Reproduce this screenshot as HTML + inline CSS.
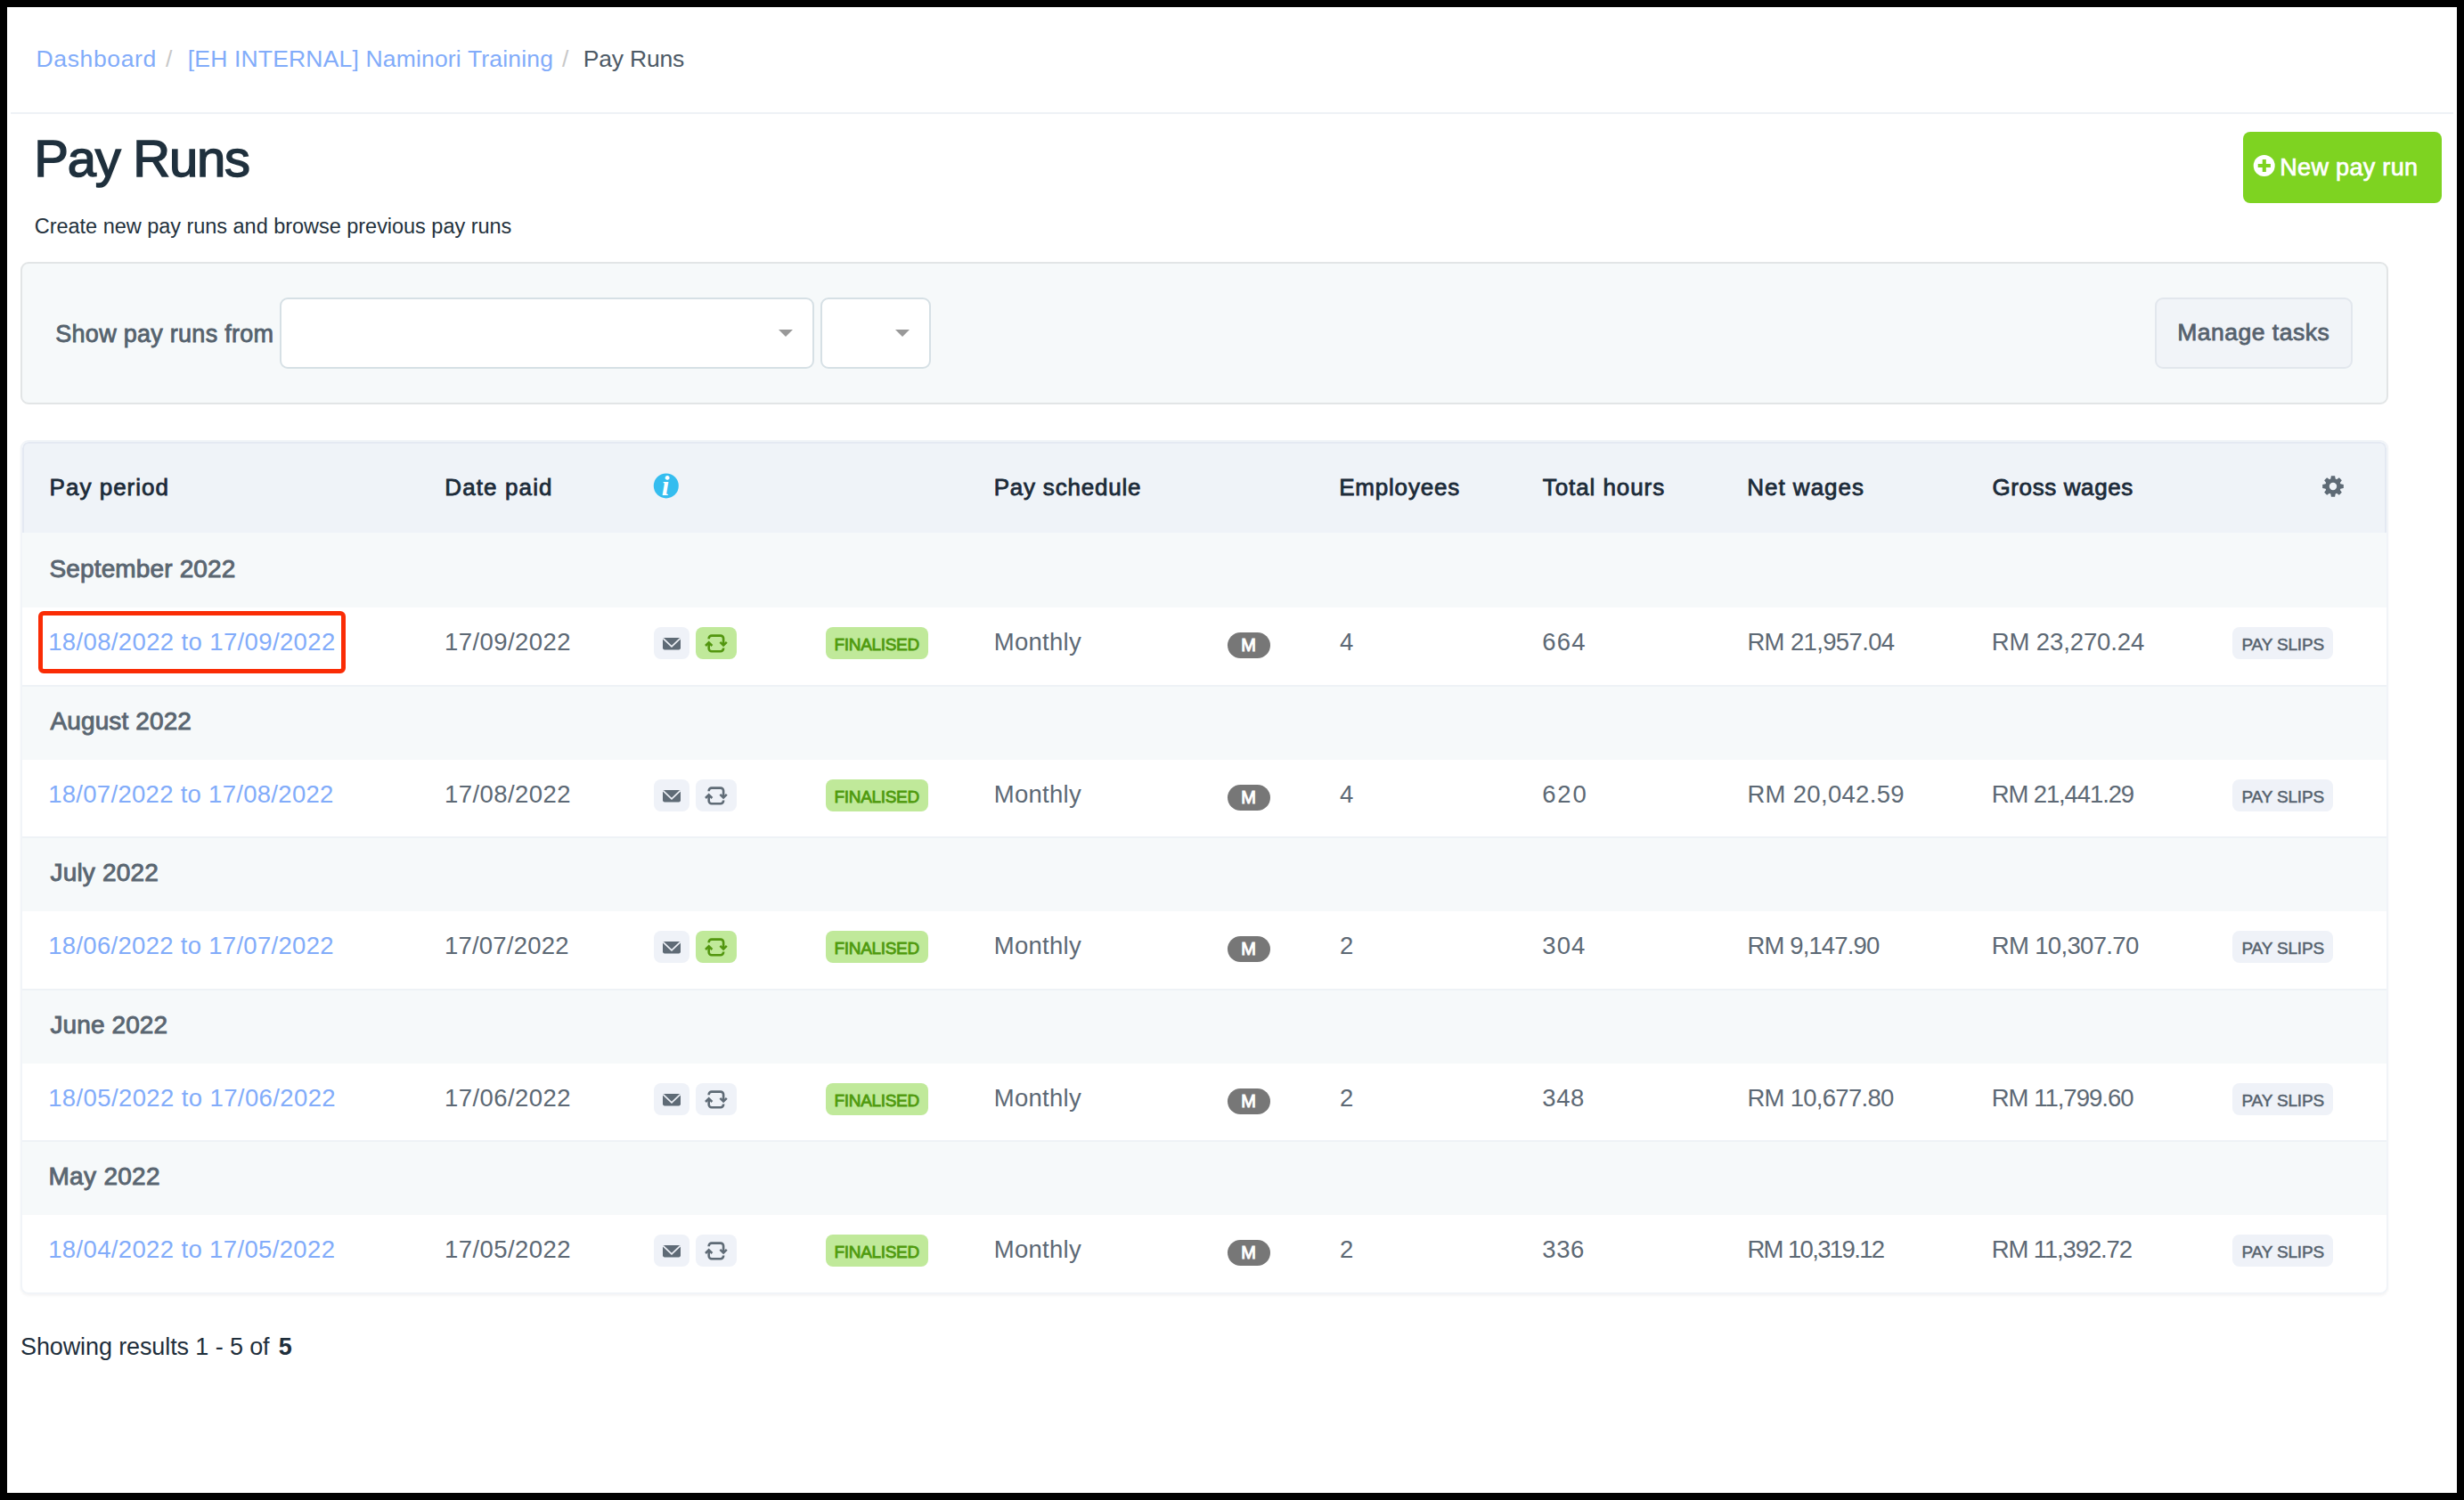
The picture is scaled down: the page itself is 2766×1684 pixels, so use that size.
<!DOCTYPE html>
<html lang="en">
<head>
<meta charset="utf-8">
<title>Pay Runs</title>
<style>
html,body{margin:0;padding:0;}
body{width:2766px;height:1684px;background:#000;position:relative;overflow:hidden;font-family:"Liberation Sans", sans-serif;}
.page{position:absolute;left:8px;top:8px;width:2750px;height:1668px;background:#fff;}
.b{position:absolute;box-sizing:border-box;}
.t{position:absolute;white-space:pre;display:block;margin:0;padding:0;font-weight:400;text-decoration:none;}
svg{position:absolute;left:0;top:0;overflow:visible;pointer-events:none;}
</style>
</head>
<body>
<div class="page"></div>
<nav aria-label="Breadcrumb">
<a class="t" style="left:40.5px;top:53px;font-size:26.5px;line-height:26.5px;color:#82acfa;letter-spacing:0.64px;">Dashboard</a>
<span class="t" style="left:186px;top:53px;font-size:26.5px;line-height:26.5px;color:#c8c8c8;">/</span>
<a class="t" style="left:210.8px;top:53px;font-size:26.5px;line-height:26.5px;color:#82acfa;letter-spacing:0.17px;">[EH INTERNAL] Naminori Training</a>
<span class="t" style="left:631px;top:53px;font-size:26.5px;line-height:26.5px;color:#c8c8c8;">/</span>
<span class="t" style="left:654.8px;top:53px;font-size:26.5px;line-height:26.5px;color:#4d5a66;letter-spacing:-0.21px;">Pay Runs</span>
</nav>
<div class="b" style="left:12px;top:126px;width:2742px;height:2px;background:#eef2f6;"></div>
<header>
<h1 class="t" style="left:38.2px;top:149px;font-size:58px;line-height:58px;color:#1f303d;letter-spacing:-1.24px;-webkit-text-stroke:1.5px #1f303d;">Pay Runs</h1>
<p class="t" style="left:38.8px;top:243px;font-size:23.5px;line-height:23.5px;color:#24323d;letter-spacing:-0.03px;">Create new pay runs and browse previous pay runs</p>
<div class="b" style="left:2518px;top:148px;width:223px;height:80px;background:#7ed321;border-radius:8px;"></div>
<svg width="2766" height="1684" viewBox="0 0 2766 1684" aria-hidden="true">
<circle cx="2541.7" cy="186" r="12" fill="#fff"/>
<path d="M2534.7 184h14.2v4h-14.2z M2539.7 179h4.1v14h-4.1z" fill="#7ed321"/>
</svg>
<a class="t" style="left:2559.3px;top:175px;font-size:27px;line-height:27px;color:#ffffff;letter-spacing:0.31px;-webkit-text-stroke:0.7px #ffffff;">New pay run</a>
</header>
<section aria-label="Filters">
<div class="b" style="left:23px;top:294px;width:2658px;height:160px;background:#f6f9fa;border:2px solid #e2e5e6;border-radius:9px;"></div>
<label class="t" style="left:62.3px;top:362px;font-size:27px;line-height:27px;color:#55626d;letter-spacing:0.27px;-webkit-text-stroke:0.8px #55626d;">Show pay runs from</label>
<div class="b" style="left:314px;top:334px;width:600px;height:80px;background:#fff;border:2px solid #d6e0e5;border-radius:9px;"></div>
<div class="b" style="left:921px;top:334px;width:124px;height:80px;background:#fff;border:2px solid #d6e0e5;border-radius:9px;"></div>
<svg width="2766" height="1684" viewBox="0 0 2766 1684" aria-hidden="true"><path d="M874 370h16l-8 8z M1005 370h16l-8 8z" fill="#999"/></svg>
<div class="b" style="left:2419px;top:334px;width:222px;height:80px;background:#f1f4f8;border:2px solid #e2e7ed;border-radius:9px;"></div>
<a class="t" style="left:2444.2px;top:360px;font-size:26.5px;line-height:26.5px;color:#56626e;letter-spacing:0.5px;-webkit-text-stroke:0.8px #56626e;">Manage tasks</a>
</section>
<section aria-label="Pay runs">
<div class="b" style="left:23px;top:494px;width:2658px;height:959px;border-radius:9px;overflow:hidden;background:#fff;border:2px solid #f1f4f8;box-shadow:0 2px 3px rgba(0,0,0,.045);">
<div class="b" style="left:0;top:0px;width:2654px;height:102px;background:#eff3f8;border:2px solid #e4e9f2;border-bottom:none;border-radius:7px 7px 0 0;"></div>
<div class="b" style="left:0;top:102px;width:2654px;height:84px;background:#f6f9fa;"></div>
<div class="b" style="left:0;top:273px;width:2654px;height:84px;background:#f6f9fa;border-top:2px solid #eef2f6;"></div>
<div class="b" style="left:0;top:443px;width:2654px;height:84px;background:#f6f9fa;border-top:2px solid #eef2f6;"></div>
<div class="b" style="left:0;top:614px;width:2654px;height:84px;background:#f6f9fa;border-top:2px solid #eef2f6;"></div>
<div class="b" style="left:0;top:784px;width:2654px;height:84px;background:#f6f9fa;border-top:2px solid #eef2f6;"></div>
</div>
<div class="b" style="left:734px;top:704px;width:40px;height:36px;background:#eff2f8;border-radius:8px;"></div>
<div class="b" style="left:781px;top:704px;width:46px;height:36px;background:#c0e99a;border-radius:8px;"></div>
<div class="b" style="left:927px;top:704px;width:115px;height:36px;background:#c0e99a;border-radius:8px;"></div>
<div class="b" style="left:1378px;top:710px;width:48px;height:29px;background:#777;border-radius:15px;"></div>
<div class="b" style="left:2506px;top:704px;width:113px;height:36px;background:#eff2f8;border-radius:8px;"></div>
<div class="b" style="left:734px;top:875px;width:40px;height:36px;background:#eff2f8;border-radius:8px;"></div>
<div class="b" style="left:781px;top:875px;width:46px;height:36px;background:#eff2f8;border-radius:8px;"></div>
<div class="b" style="left:927px;top:875px;width:115px;height:36px;background:#c0e99a;border-radius:8px;"></div>
<div class="b" style="left:1378px;top:881px;width:48px;height:29px;background:#777;border-radius:15px;"></div>
<div class="b" style="left:2506px;top:875px;width:113px;height:36px;background:#eff2f8;border-radius:8px;"></div>
<div class="b" style="left:734px;top:1045px;width:40px;height:36px;background:#eff2f8;border-radius:8px;"></div>
<div class="b" style="left:781px;top:1045px;width:46px;height:36px;background:#c0e99a;border-radius:8px;"></div>
<div class="b" style="left:927px;top:1045px;width:115px;height:36px;background:#c0e99a;border-radius:8px;"></div>
<div class="b" style="left:1378px;top:1051px;width:48px;height:29px;background:#777;border-radius:15px;"></div>
<div class="b" style="left:2506px;top:1045px;width:113px;height:36px;background:#eff2f8;border-radius:8px;"></div>
<div class="b" style="left:734px;top:1216px;width:40px;height:36px;background:#eff2f8;border-radius:8px;"></div>
<div class="b" style="left:781px;top:1216px;width:46px;height:36px;background:#eff2f8;border-radius:8px;"></div>
<div class="b" style="left:927px;top:1216px;width:115px;height:36px;background:#c0e99a;border-radius:8px;"></div>
<div class="b" style="left:1378px;top:1222px;width:48px;height:29px;background:#777;border-radius:15px;"></div>
<div class="b" style="left:2506px;top:1216px;width:113px;height:36px;background:#eff2f8;border-radius:8px;"></div>
<div class="b" style="left:734px;top:1386px;width:40px;height:36px;background:#eff2f8;border-radius:8px;"></div>
<div class="b" style="left:781px;top:1386px;width:46px;height:36px;background:#eff2f8;border-radius:8px;"></div>
<div class="b" style="left:927px;top:1386px;width:115px;height:36px;background:#c0e99a;border-radius:8px;"></div>
<div class="b" style="left:1378px;top:1392px;width:48px;height:29px;background:#777;border-radius:15px;"></div>
<div class="b" style="left:2506px;top:1386px;width:113px;height:36px;background:#eff2f8;border-radius:8px;"></div>
<div class="b" style="left:43px;top:686px;width:345px;height:70px;border:5px solid #fa2c05;border-radius:6px;"></div>
<svg width="2766" height="1684" viewBox="0 0 2766 1684" aria-hidden="true">
<circle cx="747.8" cy="545.4" r="14" fill="#35bdef"/>
<path d="M2616.30 537.62 L2616.90 534.19 L2621.10 534.19 L2621.70 537.62 L2623.01 538.17 L2625.87 536.16 L2628.84 539.13 L2626.83 541.99 L2627.38 543.30 L2630.81 543.90 L2630.81 548.10 L2627.38 548.70 L2626.83 550.01 L2628.84 552.87 L2625.87 555.84 L2623.01 553.83 L2621.70 554.38 L2621.10 557.81 L2616.90 557.81 L2616.30 554.38 L2614.99 553.83 L2612.13 555.84 L2609.16 552.87 L2611.17 550.01 L2610.62 548.70 L2607.19 548.10 L2607.19 543.90 L2610.62 543.30 L2611.17 541.99 L2609.16 539.13 L2612.13 536.16 L2614.99 538.17 Z M2614.80 546.00 a4.20 4.20 0 1 0 8.40 0 a4.20 4.20 0 1 0 -8.40 0 Z" fill="#5e6a75" fill-rule="evenodd"/>
<g transform="translate(0 0)">
<rect x="744" y="716" width="20" height="13.4" rx="1.8" fill="#5f6b76"/>
<path d="M744.3 716.6l9.7 9.2l9.7-9.2" fill="none" stroke="#eff2f8" stroke-width="1.7"/>
<g fill="none" stroke="#52960f" stroke-width="2.6" stroke-linecap="butt" stroke-linejoin="miter">
<path d="M795.7 717.3v-.5a3.2 3.2 0 0 1 3.2-3.2h10a3.2 3.2 0 0 1 3.2 3.2V724.3"/>
<path d="M812.1 727.5v.5a3.2 3.2 0 0 1-3.2 3.2h-10a3.2 3.2 0 0 1-3.2-3.2V721.6"/>
<path d="M808.4 720.9L812.1 724.6L815.8 720.9 M792 725L795.7 721.3L799.4 725" stroke-width="2.5"/>
</g>
</g>
<g transform="translate(0 171)">
<rect x="744" y="716" width="20" height="13.4" rx="1.8" fill="#5f6b76"/>
<path d="M744.3 716.6l9.7 9.2l9.7-9.2" fill="none" stroke="#eff2f8" stroke-width="1.7"/>
<g fill="none" stroke="#5f6b76" stroke-width="2.6" stroke-linecap="butt" stroke-linejoin="miter">
<path d="M795.7 717.3v-.5a3.2 3.2 0 0 1 3.2-3.2h10a3.2 3.2 0 0 1 3.2 3.2V724.3"/>
<path d="M812.1 727.5v.5a3.2 3.2 0 0 1-3.2 3.2h-10a3.2 3.2 0 0 1-3.2-3.2V721.6"/>
<path d="M808.4 720.9L812.1 724.6L815.8 720.9 M792 725L795.7 721.3L799.4 725" stroke-width="2.5"/>
</g>
</g>
<g transform="translate(0 341)">
<rect x="744" y="716" width="20" height="13.4" rx="1.8" fill="#5f6b76"/>
<path d="M744.3 716.6l9.7 9.2l9.7-9.2" fill="none" stroke="#eff2f8" stroke-width="1.7"/>
<g fill="none" stroke="#52960f" stroke-width="2.6" stroke-linecap="butt" stroke-linejoin="miter">
<path d="M795.7 717.3v-.5a3.2 3.2 0 0 1 3.2-3.2h10a3.2 3.2 0 0 1 3.2 3.2V724.3"/>
<path d="M812.1 727.5v.5a3.2 3.2 0 0 1-3.2 3.2h-10a3.2 3.2 0 0 1-3.2-3.2V721.6"/>
<path d="M808.4 720.9L812.1 724.6L815.8 720.9 M792 725L795.7 721.3L799.4 725" stroke-width="2.5"/>
</g>
</g>
<g transform="translate(0 512)">
<rect x="744" y="716" width="20" height="13.4" rx="1.8" fill="#5f6b76"/>
<path d="M744.3 716.6l9.7 9.2l9.7-9.2" fill="none" stroke="#eff2f8" stroke-width="1.7"/>
<g fill="none" stroke="#5f6b76" stroke-width="2.6" stroke-linecap="butt" stroke-linejoin="miter">
<path d="M795.7 717.3v-.5a3.2 3.2 0 0 1 3.2-3.2h10a3.2 3.2 0 0 1 3.2 3.2V724.3"/>
<path d="M812.1 727.5v.5a3.2 3.2 0 0 1-3.2 3.2h-10a3.2 3.2 0 0 1-3.2-3.2V721.6"/>
<path d="M808.4 720.9L812.1 724.6L815.8 720.9 M792 725L795.7 721.3L799.4 725" stroke-width="2.5"/>
</g>
</g>
<g transform="translate(0 682)">
<rect x="744" y="716" width="20" height="13.4" rx="1.8" fill="#5f6b76"/>
<path d="M744.3 716.6l9.7 9.2l9.7-9.2" fill="none" stroke="#eff2f8" stroke-width="1.7"/>
<g fill="none" stroke="#5f6b76" stroke-width="2.6" stroke-linecap="butt" stroke-linejoin="miter">
<path d="M795.7 717.3v-.5a3.2 3.2 0 0 1 3.2-3.2h10a3.2 3.2 0 0 1 3.2 3.2V724.3"/>
<path d="M812.1 727.5v.5a3.2 3.2 0 0 1-3.2 3.2h-10a3.2 3.2 0 0 1-3.2-3.2V721.6"/>
<path d="M808.4 720.9L812.1 724.6L815.8 720.9 M792 725L795.7 721.3L799.4 725" stroke-width="2.5"/>
</g>
</g>
</svg>
<span class="t" style="left:55.6px;top:534px;font-size:26px;line-height:26px;color:#1c2b39;letter-spacing:1.01px;-webkit-text-stroke:0.8px #1c2b39;">Pay period</span>
<span class="t" style="left:499.3px;top:534px;font-size:26px;line-height:26px;color:#1c2b39;letter-spacing:1.11px;-webkit-text-stroke:0.8px #1c2b39;">Date paid</span>
<span class="t" style="left:1115.7px;top:534px;font-size:26px;line-height:26px;color:#1c2b39;letter-spacing:0.79px;-webkit-text-stroke:0.8px #1c2b39;">Pay schedule</span>
<span class="t" style="left:1503.2px;top:534px;font-size:26px;line-height:26px;color:#1c2b39;letter-spacing:0.8px;-webkit-text-stroke:0.8px #1c2b39;">Employees</span>
<span class="t" style="left:1731.8px;top:534px;font-size:26px;line-height:26px;color:#1c2b39;letter-spacing:0.92px;-webkit-text-stroke:0.8px #1c2b39;">Total hours</span>
<span class="t" style="left:1961.2px;top:534px;font-size:26px;line-height:26px;color:#1c2b39;letter-spacing:1px;-webkit-text-stroke:0.8px #1c2b39;">Net wages</span>
<span class="t" style="left:2236.5px;top:534px;font-size:26px;line-height:26px;color:#1c2b39;letter-spacing:0.61px;-webkit-text-stroke:0.8px #1c2b39;">Gross wages</span>
<span class="t" style="left:55.5px;top:625px;font-size:28px;line-height:28px;color:#5a6671;letter-spacing:0.14px;-webkit-text-stroke:0.9px #5a6671;">September 2022</span>
<span class="t" style="left:56.5px;top:796px;font-size:28px;line-height:28px;color:#5a6671;letter-spacing:0.12px;-webkit-text-stroke:0.9px #5a6671;">August 2022</span>
<span class="t" style="left:56.5px;top:966px;font-size:28px;line-height:28px;color:#5a6671;letter-spacing:0.18px;-webkit-text-stroke:0.9px #5a6671;">July 2022</span>
<span class="t" style="left:56.5px;top:1137px;font-size:28px;line-height:28px;color:#5a6671;letter-spacing:0.1px;-webkit-text-stroke:0.9px #5a6671;">June 2022</span>
<span class="t" style="left:54.5px;top:1307px;font-size:28px;line-height:28px;color:#5a6671;letter-spacing:0.3px;-webkit-text-stroke:0.9px #5a6671;">May 2022</span>
<a class="t" style="left:54.2px;top:707px;font-size:27.5px;line-height:27.5px;color:#82acfa;letter-spacing:0.37px;">18/08/2022 to 17/09/2022</a>
<span class="t" style="left:499px;top:707px;font-size:27.5px;line-height:27.5px;color:#5d6975;letter-spacing:0.43px;">17/09/2022</span>
<span class="t" style="left:936.5px;top:714px;font-size:19px;line-height:19px;color:#4f9a0e;letter-spacing:-0.32px;-webkit-text-stroke:0.8px #4f9a0e;">FINALISED</span>
<span class="t" style="left:1115.7px;top:707px;font-size:27.5px;line-height:27.5px;color:#5d6975;letter-spacing:0.29px;">Monthly</span>
<span class="t" style="left:1393.3px;top:714px;font-size:20px;line-height:20px;color:#ffffff;-webkit-text-stroke:1px #ffffff;">M</span>
<span class="t" style="left:1504.05px;top:707px;font-size:27.5px;line-height:27.5px;color:#5d6975;">4</span>
<span class="t" style="left:1731.3px;top:707px;font-size:27.5px;line-height:27.5px;color:#5d6975;letter-spacing:1.21px;">664</span>
<span class="t" style="left:1961.4px;top:707px;font-size:27.5px;line-height:27.5px;color:#5d6975;letter-spacing:-0.64px;">RM 21,957.04</span>
<span class="t" style="left:2235.7px;top:707px;font-size:27.5px;line-height:27.5px;color:#5d6975;letter-spacing:-0.1px;">RM 23,270.24</span>
<span class="t" style="left:2516.5px;top:714px;font-size:19px;line-height:19px;color:#56626e;letter-spacing:-0.17px;-webkit-text-stroke:0.5px #56626e;">PAY SLIPS</span>
<a class="t" style="left:54.2px;top:878px;font-size:27.5px;line-height:27.5px;color:#82acfa;letter-spacing:0.29px;">18/07/2022 to 17/08/2022</a>
<span class="t" style="left:499px;top:878px;font-size:27.5px;line-height:27.5px;color:#5d6975;letter-spacing:0.43px;">17/08/2022</span>
<span class="t" style="left:936.5px;top:885px;font-size:19px;line-height:19px;color:#4f9a0e;letter-spacing:-0.32px;-webkit-text-stroke:0.8px #4f9a0e;">FINALISED</span>
<span class="t" style="left:1115.7px;top:878px;font-size:27.5px;line-height:27.5px;color:#5d6975;letter-spacing:0.29px;">Monthly</span>
<span class="t" style="left:1393.3px;top:885px;font-size:20px;line-height:20px;color:#ffffff;-webkit-text-stroke:1px #ffffff;">M</span>
<span class="t" style="left:1504.05px;top:878px;font-size:27.5px;line-height:27.5px;color:#5d6975;">4</span>
<span class="t" style="left:1731.3px;top:878px;font-size:27.5px;line-height:27.5px;color:#5d6975;letter-spacing:1.76px;">620</span>
<span class="t" style="left:1961.4px;top:878px;font-size:27.5px;line-height:27.5px;color:#5d6975;letter-spacing:0.31px;">RM 20,042.59</span>
<span class="t" style="left:2235.7px;top:878px;font-size:27.5px;line-height:27.5px;color:#5d6975;letter-spacing:-1.12px;">RM 21,441.29</span>
<span class="t" style="left:2516.5px;top:885px;font-size:19px;line-height:19px;color:#56626e;letter-spacing:-0.17px;-webkit-text-stroke:0.5px #56626e;">PAY SLIPS</span>
<a class="t" style="left:54.2px;top:1048px;font-size:27.5px;line-height:27.5px;color:#82acfa;letter-spacing:0.3px;">18/06/2022 to 17/07/2022</a>
<span class="t" style="left:499px;top:1048px;font-size:27.5px;line-height:27.5px;color:#5d6975;letter-spacing:0.21px;">17/07/2022</span>
<span class="t" style="left:936.5px;top:1055px;font-size:19px;line-height:19px;color:#4f9a0e;letter-spacing:-0.32px;-webkit-text-stroke:0.8px #4f9a0e;">FINALISED</span>
<span class="t" style="left:1115.7px;top:1048px;font-size:27.5px;line-height:27.5px;color:#5d6975;letter-spacing:0.29px;">Monthly</span>
<span class="t" style="left:1393.3px;top:1055px;font-size:20px;line-height:20px;color:#ffffff;-webkit-text-stroke:1px #ffffff;">M</span>
<span class="t" style="left:1504.05px;top:1048px;font-size:27.5px;line-height:27.5px;color:#5d6975;">2</span>
<span class="t" style="left:1731.3px;top:1048px;font-size:27.5px;line-height:27.5px;color:#5d6975;letter-spacing:1.06px;">304</span>
<span class="t" style="left:1961.4px;top:1048px;font-size:27.5px;line-height:27.5px;color:#5d6975;letter-spacing:-0.86px;">RM 9,147.90</span>
<span class="t" style="left:2235.7px;top:1048px;font-size:27.5px;line-height:27.5px;color:#5d6975;letter-spacing:-0.65px;">RM 10,307.70</span>
<span class="t" style="left:2516.5px;top:1055px;font-size:19px;line-height:19px;color:#56626e;letter-spacing:-0.17px;-webkit-text-stroke:0.5px #56626e;">PAY SLIPS</span>
<a class="t" style="left:54.2px;top:1219px;font-size:27.5px;line-height:27.5px;color:#82acfa;letter-spacing:0.39px;">18/05/2022 to 17/06/2022</a>
<span class="t" style="left:499px;top:1219px;font-size:27.5px;line-height:27.5px;color:#5d6975;letter-spacing:0.43px;">17/06/2022</span>
<span class="t" style="left:936.5px;top:1226px;font-size:19px;line-height:19px;color:#4f9a0e;letter-spacing:-0.32px;-webkit-text-stroke:0.8px #4f9a0e;">FINALISED</span>
<span class="t" style="left:1115.7px;top:1219px;font-size:27.5px;line-height:27.5px;color:#5d6975;letter-spacing:0.29px;">Monthly</span>
<span class="t" style="left:1393.3px;top:1226px;font-size:20px;line-height:20px;color:#ffffff;-webkit-text-stroke:1px #ffffff;">M</span>
<span class="t" style="left:1504.05px;top:1219px;font-size:27.5px;line-height:27.5px;color:#5d6975;">2</span>
<span class="t" style="left:1731.3px;top:1219px;font-size:27.5px;line-height:27.5px;color:#5d6975;letter-spacing:0.56px;">348</span>
<span class="t" style="left:1961.4px;top:1219px;font-size:27.5px;line-height:27.5px;color:#5d6975;letter-spacing:-0.71px;">RM 10,677.80</span>
<span class="t" style="left:2235.7px;top:1219px;font-size:27.5px;line-height:27.5px;color:#5d6975;letter-spacing:-0.99px;">RM 11,799.60</span>
<span class="t" style="left:2516.5px;top:1226px;font-size:19px;line-height:19px;color:#56626e;letter-spacing:-0.17px;-webkit-text-stroke:0.5px #56626e;">PAY SLIPS</span>
<a class="t" style="left:54.2px;top:1389px;font-size:27.5px;line-height:27.5px;color:#82acfa;letter-spacing:0.36px;">18/04/2022 to 17/05/2022</a>
<span class="t" style="left:499px;top:1389px;font-size:27.5px;line-height:27.5px;color:#5d6975;letter-spacing:0.43px;">17/05/2022</span>
<span class="t" style="left:936.5px;top:1396px;font-size:19px;line-height:19px;color:#4f9a0e;letter-spacing:-0.32px;-webkit-text-stroke:0.8px #4f9a0e;">FINALISED</span>
<span class="t" style="left:1115.7px;top:1389px;font-size:27.5px;line-height:27.5px;color:#5d6975;letter-spacing:0.29px;">Monthly</span>
<span class="t" style="left:1393.3px;top:1396px;font-size:20px;line-height:20px;color:#ffffff;-webkit-text-stroke:1px #ffffff;">M</span>
<span class="t" style="left:1504.05px;top:1389px;font-size:27.5px;line-height:27.5px;color:#5d6975;">2</span>
<span class="t" style="left:1731.3px;top:1389px;font-size:27.5px;line-height:27.5px;color:#5d6975;letter-spacing:0.56px;">336</span>
<span class="t" style="left:1961.4px;top:1389px;font-size:27.5px;line-height:27.5px;color:#5d6975;letter-spacing:-1.64px;">RM 10,319.12</span>
<span class="t" style="left:2235.7px;top:1389px;font-size:27.5px;line-height:27.5px;color:#5d6975;letter-spacing:-1.12px;">RM 11,392.72</span>
<span class="t" style="left:2516.5px;top:1396px;font-size:19px;line-height:19px;color:#56626e;letter-spacing:-0.17px;-webkit-text-stroke:0.5px #56626e;">PAY SLIPS</span>
<span class="t" style="left:742.7px;top:530px;font-size:31px;line-height:31px;color:#ffffff;font-weight:700;font-family:'Liberation Serif', serif;font-style:italic;">i</span>
</section>
<footer>
<span class="t" style="left:23px;top:1499px;font-size:27px;line-height:27px;color:#1f2f3c;letter-spacing:-0.11px;">Showing results 1 - 5 of</span>
<b class="t" style="left:312.75px;top:1499px;font-size:27px;line-height:27px;color:#1f2f3c;font-weight:700;">5</b>
</footer>
</body>
</html>
